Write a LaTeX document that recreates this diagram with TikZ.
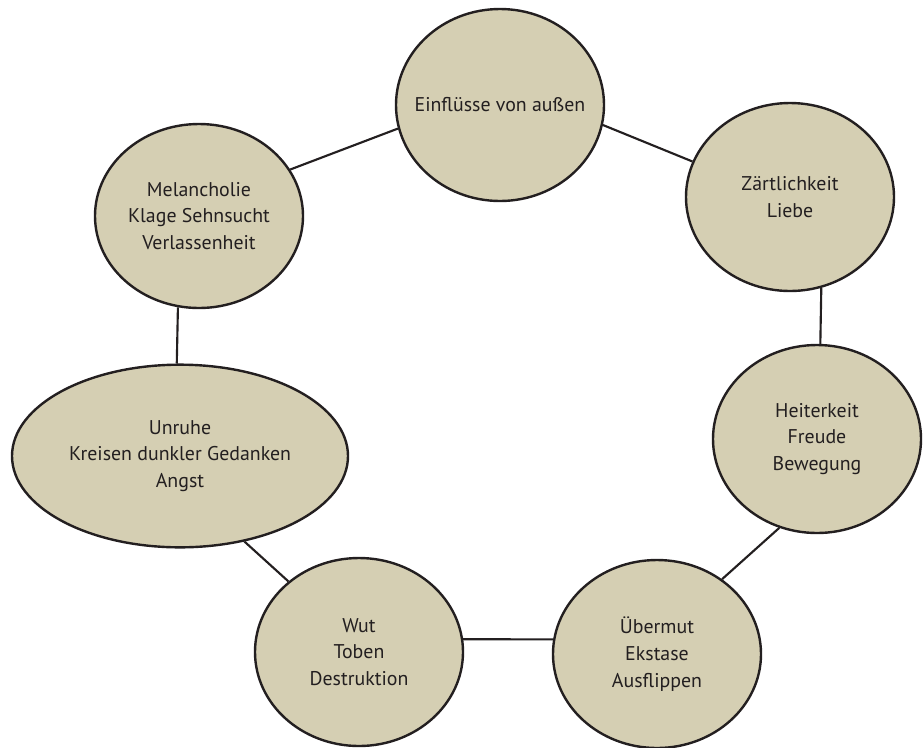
\documentclass[tikz,border=0pt]{standalone}
\usepackage{fontspec}
\setmainfont{PT Sans}
\usepackage{xcolor}
\usepackage{tikz}
\usetikzlibrary{shapes}
\definecolor{sand}{RGB}{213,207,179}
\definecolor{ink}{RGB}{35,31,32}

\begin{document}
\begin{tikzpicture}[
    x=0.75pt, y=-0.75pt,
    mood/.style={ellipse, draw=ink, line width=1.8pt, fill=sand, text=ink, align=center,
      inner sep=0pt, minimum width=156pt, minimum height=141pt,
      font=\fontsize{14.9}{20}\selectfont},
    link/.style={draw=ink, line width=1.6pt}
  ]
    \useasboundingbox (0,0) rectangle (924,747);
    \node[mood, inner xsep=-12pt, minimum height=144pt] (einfl) at (500,105) {Einflüsse von außen};
    \node[mood] (zaert) at (790,197) {Zärtlichkeit\\Liebe};
    \node[mood] (heiter) at (817,439) {Heiterkeit\\Freude\\Bewegung};
    \node[mood] (uebermut) at (657,654) {Übermut\\Ekstase\\Ausflippen};
    \node[mood] (wut) at (359,652) {Wut\\Toben\\Destruktion};
    \node[mood, minimum width=252pt, minimum height=137pt] (unruhe) at (180,456) {Unruhe\\Kreisen dunkler Gedanken\\Angst};
    \node[mood, minimum height=138pt] (melan) at (199,216) {Melancholie\\Klage Sehnsucht\\Verlassenheit};
    \draw[link] (einfl.-11) -- (zaert.160);
    \draw[link] (einfl.193) -- (melan.27);
    \draw[link] (zaert.-71) -- (heiter.88);
    \draw[link] (heiter.-113) -- (uebermut.49);
    \draw[link] (uebermut.172) -- (wut.7);
    \draw[link] (wut.135) -- (unruhe.-53);
    \draw[link] (unruhe.92) -- (melan.-103);
  \end{tikzpicture}
\end{document}
